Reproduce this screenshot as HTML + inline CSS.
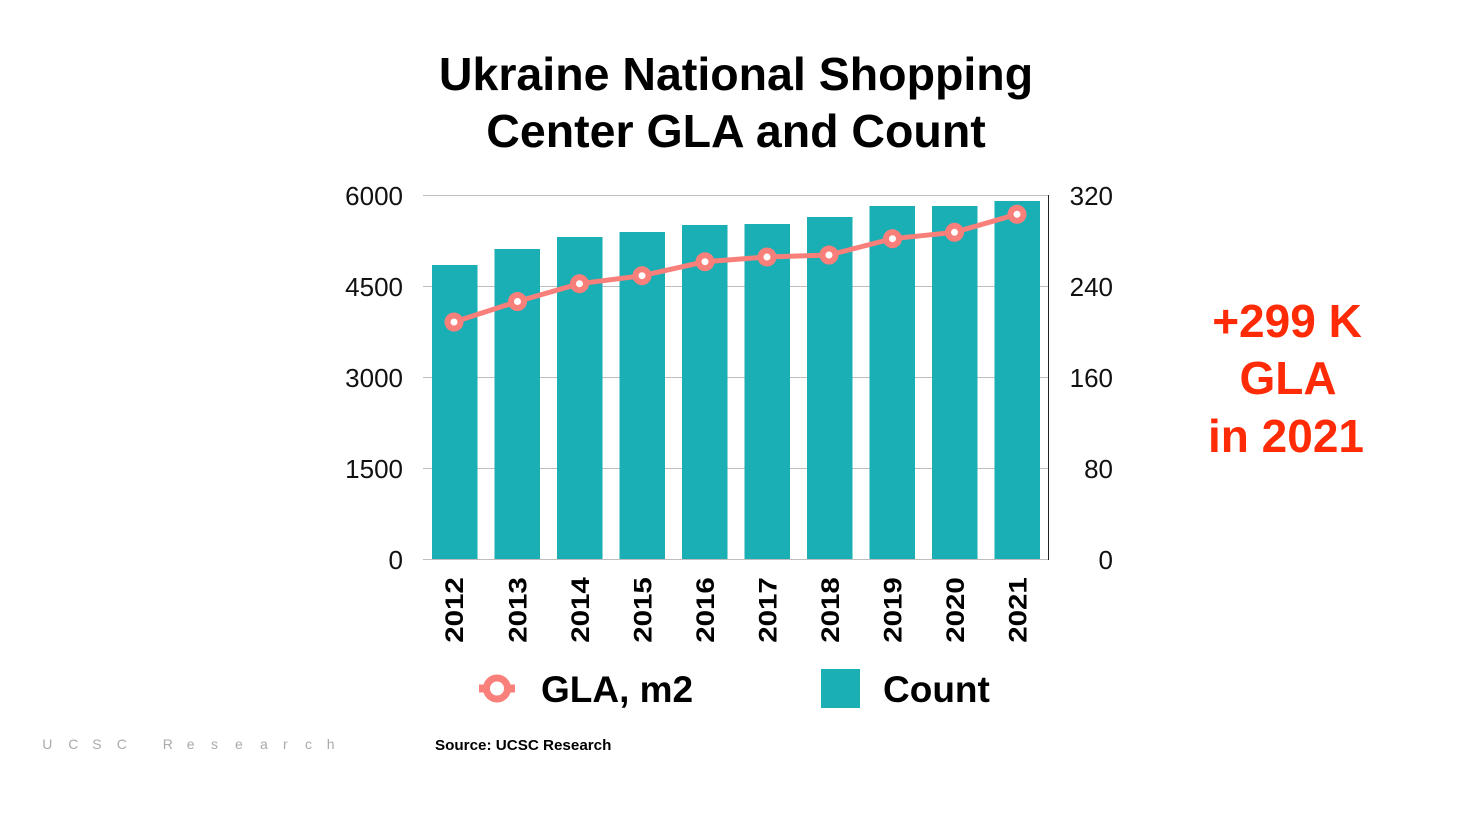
<!DOCTYPE html>
<html>
<head>
<meta charset="utf-8">
<style>
  html, body { margin:0; padding:0; background:#ffffff; }
  body { width:1468px; height:825px; overflow:hidden; }
  svg { display:block; }
  text { font-family: "Liberation Sans", Arial, sans-serif; }
</style>
</head>
<body>
<svg width="1468" height="825" viewBox="0 0 1468 825" xmlns="http://www.w3.org/2000/svg">
  <rect width="1468" height="825" fill="#ffffff"/>

  <!-- Title -->
  <text x="736" y="90" text-anchor="middle" font-size="46.5" font-weight="bold" fill="#000">Ukraine National Shopping</text>
  <text x="736" y="147" text-anchor="middle" font-size="46.5" font-weight="bold" fill="#000">Center GLA and Count</text>

  <!-- Gridlines -->
  <g stroke="#bdbdbd" stroke-width="1">
    <line x1="423" y1="195.5" x2="1048" y2="195.5"/>
    <line x1="423" y1="286.5" x2="1048" y2="286.5"/>
    <line x1="423" y1="377.5" x2="1048" y2="377.5"/>
    <line x1="423" y1="468.5" x2="1048" y2="468.5"/>
    <line x1="423" y1="559.5" x2="1048" y2="559.5"/>
  </g>

  <!-- Bars -->
  <g fill="#1aaeb5">
    <rect x="432" y="265" width="45.5" height="294"/>
    <rect x="494.5" y="249" width="45.5" height="310"/>
    <rect x="557" y="237" width="45.5" height="322"/>
    <rect x="619.5" y="232" width="45.5" height="327"/>
    <rect x="682" y="225" width="45.5" height="334"/>
    <rect x="744.5" y="224" width="45.5" height="335"/>
    <rect x="807" y="217" width="45.5" height="342"/>
    <rect x="869.5" y="206" width="45.5" height="353"/>
    <rect x="932" y="206" width="45.5" height="353"/>
    <rect x="994.5" y="201" width="45.5" height="358"/>
  </g>

  <!-- Right axis line -->
  <line x1="1048.5" y1="195" x2="1048.5" y2="560" stroke="#222" stroke-width="1"/>

  <!-- Line series -->
  <polyline fill="none" stroke="#f97f7b" stroke-width="5" stroke-linejoin="round"
    points="454,322 517.5,301.5 579.5,283.7 642,275.7 705,261.7 767,257 829,255 892.5,238.7 954.5,232.3 1017,214.3"/>
  <g fill="#ffffff" stroke="#f97f7b" stroke-width="6">
    <circle cx="454" cy="322" r="6.5"/>
    <circle cx="517.5" cy="301.5" r="6.5"/>
    <circle cx="579.5" cy="283.7" r="6.5"/>
    <circle cx="642" cy="275.7" r="6.5"/>
    <circle cx="705" cy="261.7" r="6.5"/>
    <circle cx="767" cy="257" r="6.5"/>
    <circle cx="829" cy="255" r="6.5"/>
    <circle cx="892.5" cy="238.7" r="6.5"/>
    <circle cx="954.5" cy="232.3" r="6.5"/>
    <circle cx="1017" cy="214.3" r="6.5"/>
  </g>

  <!-- Left axis labels -->
  <g font-size="26" fill="#111" text-anchor="end">
    <text x="403" y="205">6000</text>
    <text x="403" y="296">4500</text>
    <text x="403" y="387">3000</text>
    <text x="403" y="478">1500</text>
    <text x="403" y="569">0</text>
  </g>

  <!-- Right axis labels -->
  <g font-size="26" fill="#111" text-anchor="end">
    <text x="1113" y="205">320</text>
    <text x="1113" y="296">240</text>
    <text x="1113" y="387">160</text>
    <text x="1113" y="478">80</text>
    <text x="1113" y="569">0</text>
  </g>

  <!-- Year labels (rotated) -->
  <g font-size="25" font-weight="bold" fill="#000" text-anchor="middle">
    <text transform="translate(463,610) rotate(-90) scale(1.18,1)">2012</text>
    <text transform="translate(526.5,610) rotate(-90) scale(1.18,1)">2013</text>
    <text transform="translate(589,610) rotate(-90) scale(1.18,1)">2014</text>
    <text transform="translate(651.5,610) rotate(-90) scale(1.18,1)">2015</text>
    <text transform="translate(714,610) rotate(-90) scale(1.18,1)">2016</text>
    <text transform="translate(776.5,610) rotate(-90) scale(1.18,1)">2017</text>
    <text transform="translate(839,610) rotate(-90) scale(1.18,1)">2018</text>
    <text transform="translate(901.5,610) rotate(-90) scale(1.18,1)">2019</text>
    <text transform="translate(964,610) rotate(-90) scale(1.18,1)">2020</text>
    <text transform="translate(1026.5,610) rotate(-90) scale(1.18,1)">2021</text>
  </g>

  <!-- Legend -->
  <line x1="479" y1="688.5" x2="515" y2="688.5" stroke="#f97f7b" stroke-width="8"/>
  <circle cx="497" cy="688.5" r="10.5" fill="#ffffff" stroke="#f97f7b" stroke-width="7"/>
  <text x="541" y="702" font-size="37" font-weight="bold" fill="#000">GLA, m2</text>
  <rect x="821" y="669" width="39" height="39" fill="#1aaeb5"/>
  <text x="883" y="702" font-size="37" font-weight="bold" fill="#000">Count</text>

  <!-- Red annotation -->
  <g font-size="46" font-weight="bold" fill="#ff2b06" text-anchor="middle">
    <text x="1287" y="337">+299 K</text>
    <text x="1288" y="394">GLA</text>
    <text x="1286" y="452">in 2021</text>
  </g>

  <!-- Source -->
  <text x="435" y="750" font-size="15.2" font-weight="bold" fill="#000">Source: UCSC Research</text>

  <!-- Footer spaced text -->
  <g font-size="14" fill="#aaaaaa">
    <text x="42.3" y="749">U</text>
    <text x="68.3" y="749">C</text>
    <text x="92.3" y="749">S</text>
    <text x="116.7" y="749">C</text>
    <text x="162.7" y="749">R</text>
    <text x="186.7" y="749">e</text>
    <text x="211" y="749">s</text>
    <text x="235" y="749">e</text>
    <text x="260" y="749">a</text>
    <text x="283" y="749">r</text>
    <text x="305" y="749">c</text>
    <text x="326.7" y="749">h</text>
  </g>
</svg>
</body>
</html>
